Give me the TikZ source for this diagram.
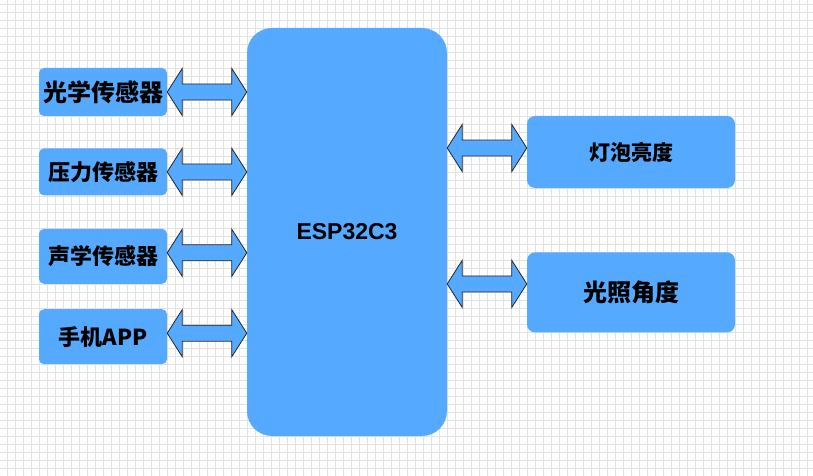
\documentclass[tikz,border=0pt]{standalone}
\usepackage{fontspec}
\setmainfont{Liberation Sans}
\newfontfamily\cjk{Noto Sans CJK SC}
\usepackage{tikz}
\usetikzlibrary{positioning,calc}
\definecolor{espblue}{RGB}{85,170,255}
\definecolor{gridgray}{RGB}{226,226,226}
\tikzset{
  blk/.style={fill=espblue,text=black,inner sep=0pt,rounded corners=5pt,
              minimum width=128pt,font=\cjk\bfseries\fontsize{22}{24}\selectfont},
  blkR/.style={blk,rounded corners=8pt,minimum width=208pt},
  darr/.style={draw=black!85,fill=espblue,line width=0.8pt,line join=miter},
  gridln/.style={draw=gridgray,line width=1pt},
}
% block double arrow from #1 to #2, shifted by #3
\newcommand{\dblarrow}[3]{%
  \draw[darr] let \p1=([yshift=#3]#1), \p2=(#2) in
    (\x1,\y1) -- (\x1+15pt,\y1+23.5pt) -- (\x1+15pt,\y1+8pt)
    -- (\x2-15pt,\y1+8pt) -- (\x2-15pt,\y1+23.5pt) -- (\x2,\y1)
    -- (\x2-15pt,\y1-23.5pt) -- (\x2-15pt,\y1-8pt)
    -- (\x1+15pt,\y1-8pt) -- (\x1+15pt,\y1-23.5pt) -- cycle;}

\begin{document}
\begin{tikzpicture}[x=1pt,y=-1pt]
  \useasboundingbox (0,0) rectangle (813,476);
  \fill[white] (0,0) rectangle (813,476);
  % grid
  \foreach \gx in {7.5,15.5,...,813}
    \draw[gridln] (\gx,0) -- (\gx,476);
  \foreach \gy in {4.5,12.5,...,476}
    \draw[gridln] (0,\gy) -- (813,\gy);

  \node[fill=espblue,rounded corners=25pt,minimum width=200pt,
        minimum height=408pt,inner sep=0pt,
        font=\bfseries\fontsize{23}{25}\selectfont] (esp) at (347,232)
    {\raisebox{-3pt}{ESP32C3}};

  \node[blk,minimum height=48pt,font=\cjk\bfseries\fontsize{24}{26}\selectfont]
    (s1) at (103,92) {光学传感器};
  \node[blk,minimum height=47pt,below=32pt of s1] (s2) {压力传感器};
  \node[blk,minimum height=55pt,below=33pt of s2] (s3) {声学传感器};
  \node[blk,minimum height=55pt,below=25pt of s3] (s4) {手机APP};

  \node[blkR,minimum height=72pt,font=\cjk\bfseries\fontsize{21}{23}\selectfont]
    (r1) at (631,152) {\raisebox{-3pt}{灯泡亮度}};
  \node[blkR,minimum height=80pt,below=64pt of r1,
        font=\cjk\bfseries\fontsize{24}{26}\selectfont]
    (r2) {\raisebox{-3pt}{光照角度}};

  \dblarrow{s1.east}{esp.west}{0pt}
  \dblarrow{s2.east}{esp.west}{0pt}
  \dblarrow{s3.east}{esp.west}{3.5pt}
  \dblarrow{s4.east}{esp.west}{3.5pt}
  \dblarrow{esp.east |- r1.west}{r1.west}{4pt}
  \dblarrow{esp.east |- r2.west}{r2.west}{8.5pt}
\end{tikzpicture}
\end{document}
